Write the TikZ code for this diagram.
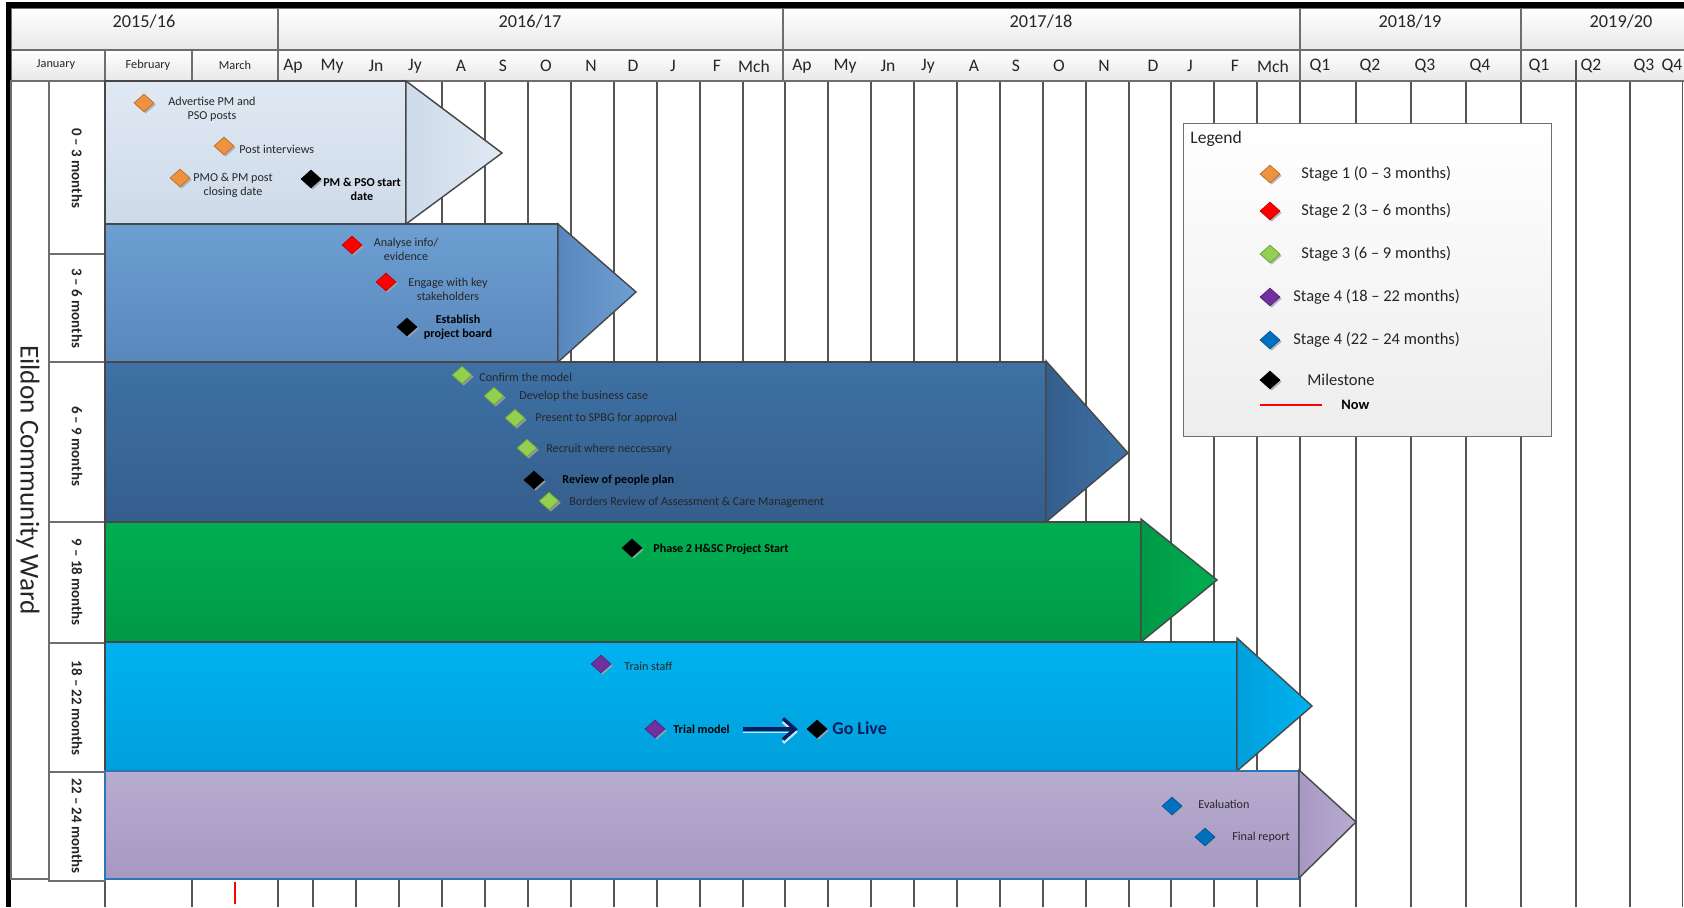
\documentclass[tikz,border=0pt]{standalone}
\usepackage{fontspec}
\setmainfont{Carlito}
\usetikzlibrary{shapes.geometric,shadows,arrows.meta}

\definecolor{hdrline}{HTML}{6E6E6E}
\definecolor{hdrgray}{HTML}{E8E8E8}
\definecolor{gridgray}{HTML}{555555}
\definecolor{barline}{HTML}{474747}
\definecolor{txtgray}{HTML}{262626}
\definecolor{msorange}{HTML}{F0913F}
\definecolor{msred}{HTML}{FF0000}
\definecolor{msgreen}{HTML}{92D050}
\definecolor{mspurple}{HTML}{7030A0}
\definecolor{msblue}{HTML}{0070C0}
\definecolor{msblack}{HTML}{000000}
\definecolor{golive}{HTML}{0B1D5C}
\definecolor{bonetop}{HTML}{E0E9F3}
\definecolor{bonebot}{HTML}{CDDAE9}
\definecolor{btwotop}{HTML}{6D9FD2}
\definecolor{btwobot}{HTML}{5987BD}
\definecolor{bthrtop}{HTML}{3E71A5}
\definecolor{bthrbot}{HTML}{345E8C}
\definecolor{bfourtop}{HTML}{00AE51}
\definecolor{bfourbot}{HTML}{009946}
\definecolor{bfivetop}{HTML}{00B3F0}
\definecolor{bfivebot}{HTML}{009FDB}
\definecolor{bsixtop}{HTML}{B8ACD0}
\definecolor{bsixbot}{HTML}{A798C2}
\definecolor{bsixline}{HTML}{2E75B6}

\newcommand\yrfont{\fontsize{10.4}{12}\selectfont}
\newcommand\mofont{\fontsize{10}{12}\selectfont}
\newcommand\mosmall{\fontsize{7}{8}\selectfont}
\newcommand\taskfont{\fontsize{6.9}{7.9}\selectfont}
\newcommand\stagefont{\fontsize{8.5}{10}\selectfont}
\newcommand\legfont{\fontsize{9.4}{11}\selectfont}

\begin{document}
\begin{tikzpicture}[x=0.2mm,y=-0.2mm,
    hdrcell/.style={draw=hdrline,line width=0.7pt,top color=white,bottom color=hdrgray},
    sidecell/.style={draw=hdrline,line width=0.7pt,fill=white},
    gridln/.style={draw=gridgray,line width=0.6pt},
    barbox/.style={draw=barline,line width=0.8pt},
    ms/.style={diamond,inner sep=0pt,minimum width=4mm,minimum height=3.6mm,draw=#1!75!black,fill=#1,
        drop shadow={shadow xshift=0.35mm,shadow yshift=-0.35mm,fill=black!35,opacity=0.8}},
    task/.style={font=\taskfont,text=txtgray,inner sep=0pt,align=center},
    taskl/.style={task,anchor=west},
    key/.style={font=\bfseries\taskfont,text=black,inner sep=0pt,align=center},
    keyl/.style={key,anchor=west},
    stagelbl/.style={font=\bfseries\stagefont,text=txtgray,rotate=-90,inner sep=0pt},
    legtxt/.style={font=\legfont,text=txtgray,anchor=west,inner sep=0pt}]

    \fill[white] (0,0) rectangle (1684,907);
    \useasboundingbox (0,0) rectangle (1684,907);

    \foreach \gx in {105,192,278,313,356,399,442,485,528,571,614,657,700,743,785,828,871,914,957,1000,1043,1086,1129,1171,1214,1257,1300,1356,1411,1466,1521,1630,1682}
        \draw[gridln] (\gx,81) -- (\gx,907);
    \draw[gridln] (1576,60) -- (1576,907);

    \foreach \a/\b in {11/278,278/783,783/1300,1300/1521,1521/1720}
        \draw[hdrcell] (\a,8) rectangle (\b,50);
    \foreach \a/\b in {11/105,105/192,192/278,278/783,783/1300,1300/1521,1521/1720}
        \draw[hdrcell] (\a,50) rectangle (\b,81);
    \draw[gridln] (1576,60) -- (1576,81);

    \foreach \x/\t in {144/{2015/16},530/{2016/17},1041/{2017/18},1410/{2018/19},1621/{2019/20}}
        \node[font=\yrfont,text=txtgray] (yr\x) at (\x,22) {\t};
    \node[font=\mosmall,text=txtgray] (jan) at (56,65) {January};
    \node[font=\mosmall,text=txtgray] (feb) at (148,65) {February};
    \node[font=\mosmall,text=txtgray] (mar) at (235,65) {March};
    \foreach \x/\t in {293/Ap,332/My,376/Jn,415/Jy,461/A,503/S,546/O,591/N,633/D,673/J,717/F,754/Mch,
        802/Ap,845/My,888/Jn,928/Jy,974/A,1016/S,1059/O,1104/N,1153/D,1190/J,1235/F,1273/Mch,
        1320/Q1,1370/Q2,1425/Q3,1480/Q4,1539/Q1,1591/Q2,1644/Q3,1672/Q4}
        \node[font=\mofont,text=txtgray] (mo\x) at (\x,66) {\t};

    \fill[black] (6,2) rectangle (1684,8);
    \fill[black] (6,2) rectangle (11,907);

    \draw[sidecell] (11,81) rectangle (49,879);
    \foreach \a/\b in {81/254,254/362,362/522,522/643,643/772,772/881}
        \draw[sidecell] (49,\a) rectangle (105,\b);
    \node[font=\fontsize{15.5}{18}\selectfont,text=txtgray,rotate=-90] (ward) at (28,480) {Eildon Community Ward};
    \node[stagelbl] (st1) at (77,168) {0 -- 3 months};
    \node[stagelbl] (st2) at (77,308) {3 -- 6 months};
    \node[stagelbl] (st3) at (77,446) {6 -- 9 months};
    \node[stagelbl] (st4) at (77,582) {9 -- 18 months};
    \node[stagelbl] (st5) at (77,708) {18 -- 22 months};
    \node[stagelbl] (st6) at (77,826) {22 -- 24 months};

    \shade[barbox,top color=bonetop,bottom color=bonebot] (105,81) rectangle (406,224);
    \shade[barbox,left color=bonebot,right color=bonetop] (406,81) -- (502,153) -- (406,224) -- cycle;
    \shade[barbox,top color=btwotop,bottom color=btwobot] (105,224) rectangle (558,362);
    \shade[barbox,left color=btwobot,right color=btwotop] (558,224) -- (636,292) -- (558,362) -- cycle;
    \shade[barbox,top color=bthrtop,bottom color=bthrbot] (105,362) rectangle (1046,522);
    \shade[barbox,left color=bthrbot,right color=bthrtop] (1046,361) -- (1128,453) -- (1046,522) -- cycle;
    \shade[barbox,top color=bfourtop,bottom color=bfourbot] (105,522) rectangle (1141,642);
    \shade[barbox,left color=bfourbot,right color=bfourtop] (1141,519) -- (1217,580) -- (1141,642) -- cycle;
    \shade[barbox,top color=bfivetop,bottom color=bfivebot] (105,642) rectangle (1237,771);
    \shade[barbox,left color=bfivebot,right color=bfivetop] (1237,638) -- (1312,706) -- (1237,771) -- cycle;
    \shade[draw=bsixline,line width=0.8pt,top color=bsixtop,bottom color=bsixbot] (105,771) rectangle (1299,879);
    \shade[barbox,left color=bsixbot,right color=bsixtop] (1299,770) -- (1356,822) -- (1299,878) -- cycle;

    \draw[red,line width=0.6pt] (235,882) -- (235,904);

    \node[ms=msorange] (adv) at (144,103) {};
    \node[task] (advt) at (212,109) {Advertise PM and\\PSO posts};
    \node[ms=msorange] (intv) at (224,146) {};
    \node[taskl] (intvt) at (239,149) {Post interviews};
    \node[ms=msorange] (pmo) at (180,178) {};
    \node[task] (pmot) at (233,185) {PMO \& PM post\\closing date};
    \node[ms=msblack] (start) at (311,179) {};
    \node[key] (startt) at (362,189) {PM \& PSO start\\date};

    \node[ms=msred] (anl) at (352,245) {};
    \node[task] (anlt) at (406,249) {Analyse info/\\evidence};
    \node[ms=msred] (eng) at (386,282) {};
    \node[task] (engt) at (448,289) {Engage with key\\stakeholders};
    \node[ms=msblack] (board) at (407,327) {};
    \node[key] (boardt) at (458,327) {Establish\\project board};

    \node[ms=msgreen] (conf) at (462,375) {};
    \node[taskl] (conft) at (479,377) {Confirm the model};
    \node[ms=msgreen] (dev) at (494,396) {};
    \node[taskl] (devt) at (519,396) {Develop the business case};
    \node[ms=msgreen] (pres) at (515,418) {};
    \node[taskl] (prest) at (535,418) {Present to SPBG for approval};
    \node[ms=msgreen] (recr) at (527,448) {};
    \node[taskl] (recrt) at (546,449) {Recruit where neccessary};
    \node[ms=msblack] (ppl) at (534,480) {};
    \node[keyl] (pplt) at (562,480) {Review of people plan};
    \node[ms=msgreen] (bord) at (549,501) {};
    \node[taskl] (bordt) at (569,502) {Borders Review of Assessment \& Care Management};

    \node[ms=msblack] (ph2) at (632,548) {};
    \node[keyl] (ph2t) at (653,549) {Phase 2 H\&SC Project Start};

    \node[ms=mspurple] (train) at (601,664) {};
    \node[taskl] (traint) at (624,666) {Train staff};
    \node[ms=mspurple] (trial) at (655,729) {};
    \node[keyl] (trialt) at (673,729) {Trial model};
    \node[ms=msblack] (gl) at (817,729) {};
    \node[anchor=west,inner sep=0pt,font=\bfseries\fontsize{10.2}{12}\selectfont,text=golive] (glt) at (832,728) {Go Live};
    \draw[-{Straight Barb[length=2.4mm,width=4.2mm,line width=2pt]},line width=2.1pt,golive,shorten <=2.6mm,shorten >=1.8mm,
        preaction={draw=cyan!25,transform canvas={yshift=-0.6mm}}] (trialt.east) -- (gl.west);

    \node[ms=msblue] (eval) at (1172,806) {};
    \node[taskl] (evalt) at (1198,804) {Evaluation};
    \node[ms=msblue] (final) at (1205,837) {};
    \node[taskl] (finalt) at (1232,837) {Final report};

    \node[draw=hdrline,line width=0.8pt,top color=white,bottom color=black!7,anchor=north west,
        minimum width=73.6mm,minimum height=62.6mm,inner sep=0pt] (legend) at (1183,123) {};
    \node[legtxt,font=\fontsize{10}{12}\selectfont] (legt) at (1190,139) {Legend};
    \foreach \y/\c/\x/\t in {174/msorange/1301/Stage 1 (0 -- 3 months),211/msred/1301/Stage 2 (3 -- 6 months),
        254/msgreen/1301/Stage 3 (6 -- 9 months),297/mspurple/1293/Stage 4 (18 -- 22 months),
        340/msblue/1293/Stage 4 (22 -- 24 months),380/msblack/1307/Milestone}
    {
        \node[ms=\c] (key\y) at (1270,\y) {};
        \node[legtxt] (keyt\y) at (\x,\y) {\t};
    }
    \coordinate (nowa) at (1260,405);
    \coordinate (nowb) at (1322,405);
    \draw[red,line width=0.6pt] (nowa) -- (nowb);
    \node[legtxt,font=\bfseries\fontsize{8.2}{10}\selectfont,text=black] (nowt) at (1341,405) {Now};
\end{tikzpicture}
\end{document}
